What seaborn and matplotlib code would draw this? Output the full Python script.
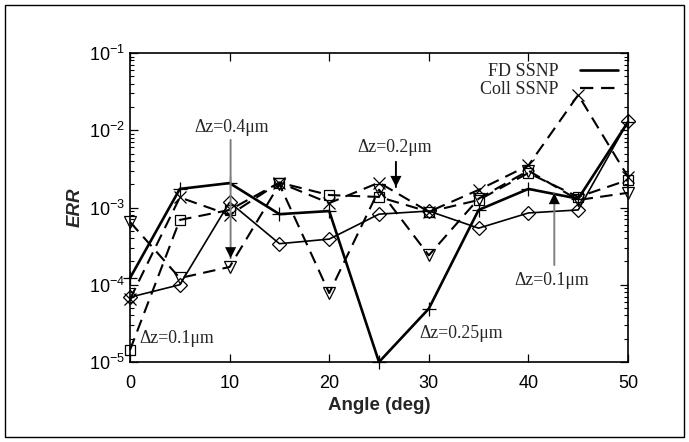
import numpy as np
import pandas as pd
import matplotlib
matplotlib.use("Agg")
import matplotlib.pyplot as plt
import seaborn as sns
from matplotlib.lines import Line2D
from matplotlib.patches import Rectangle
from matplotlib.ticker import LogLocator, NullLocator, NullFormatter

# data
angles = [0, 5, 10, 15, 20, 25, 30, 35, 40, 45, 50]
fd_plus = [1.22e-4, 1.74e-3, 2.07e-3, 8.2e-4, 9.0e-4, 1.0e-5, 4.9e-5, 9.3e-4, 1.74e-3, 1.3e-3, 1.28e-2]
fd_diamond = [6.9e-5, 1.0e-4, 1.17e-3, 3.4e-4, 3.9e-4, 8.2e-4, 9.0e-4, 5.4e-4, 8.5e-4, 9.3e-4, 1.3e-2]
coll_x = [6.5e-5, 1.35e-3, 8.0e-4, 2.1e-3, 1.14e-3, 2.1e-3, 8.8e-4, 1.69e-3, 3.5e-3, 2.86e-2, 2.5e-3]
coll_square = [1.43e-5, 6.9e-4, 9.3e-4, 2.1e-3, 1.45e-3, 1.37e-3, 8.8e-4, 1.25e-3, 2.8e-3, 1.37e-3, 2.27e-3]
coll_tri = [6.5e-4, 1.22e-4, 1.7e-4, 2.0e-3, 7.8e-5, 1.7e-3, 2.4e-4, 1.3e-3, 3.0e-3, 1.25e-3, 1.55e-3]

legend_labels = ["FD SSNP", "Coll SSNP"]

sns.set_style("ticks")
plt.rcParams['font.family'] = ['Liberation Sans', 'DejaVu Sans']
plt.rcParams['mathtext.fontset'] = 'custom'
plt.rcParams['mathtext.rm'] = 'Liberation Sans'
plt.rcParams['mathtext.it'] = 'Liberation Sans:italic'

fig = plt.figure(figsize=(6.89, 4.42), dpi=100)
ax = fig.add_axes([130 / 689, 1 - 362 / 442, 498 / 689, 309 / 442])

dash = (0, (6, 3.5))
# (values, marker, linestyle, linewidth, markersize)
series = [
    (coll_tri, 'v', dash, 1.5, 9),
    (coll_square, 's', dash, 1.5, 7),
    (coll_x, 'x', dash, 1.5, 9),
    (fd_diamond, 'D', '-', 1.2, 7),
    (fd_plus, '+', '-', 1.9, 10),
]
for vals, mk, ls, lw, ms in series:
    df = pd.DataFrame({"angle": angles, "err": vals})
    sns.lineplot(data=df, x="angle", y="err", ax=ax, color='black',
                 linestyle=ls, linewidth=lw, marker=mk, markersize=ms,
                 markerfacecolor='none', markeredgecolor='black',
                 markeredgewidth=0.9, clip_on=False)

ax.set_yscale('log')
ax.set_xlim(0, 50)
ax.set_ylim(1e-5, 1e-1)
ax.set_xticks([0, 10, 20, 30, 40, 50])
ax.xaxis.set_minor_locator(NullLocator())
ax.yaxis.set_major_locator(LogLocator(base=10, numticks=10))
ax.yaxis.set_minor_locator(LogLocator(base=10, subs=np.arange(2, 10), numticks=20))
ax.yaxis.set_minor_formatter(NullFormatter())
ax.tick_params(axis='both', which='both', direction='in', top=True, right=True,
               labelsize=13, colors='black')
ax.tick_params(which='major', length=6, width=0.9)
ax.tick_params(which='minor', length=3, width=0.8)
ax.tick_params(axis='x', pad=9)
for sp in ax.spines.values():
    sp.set_linewidth(1.2)
    sp.set_color('black')

ax.set_xlabel("Angle (deg)", fontsize=13.5, fontweight='bold', labelpad=4)
ax.set_ylabel("ERR", fontsize=13.5, fontweight='bold', fontstyle='italic', labelpad=4)

serif = ['Liberation Serif', 'DejaVu Serif']
tkw = dict(family=serif, fontsize=12.8, ha='center', va='center')


def arrow(x, y_from, y_to, line_col):
    # shaft, then a solid black head near the tip
    ax.annotate("", xy=(x, y_to), xytext=(x, y_from),
                arrowprops=dict(arrowstyle='-', color=line_col, lw=1.4,
                                shrinkA=0, shrinkB=0))
    head_from = y_to * (y_from / y_to) ** 0.25
    ax.annotate("", xy=(x, y_to), xytext=(x, head_from),
                arrowprops=dict(arrowstyle='-|>', color='black', lw=0.01,
                                mutation_scale=20, shrinkA=0, shrinkB=0))


arrow(10.1, 7.5e-3, 2.2e-4, 'gray')
ax.text(10.2, 1.07e-2, "Δz=0.4μm", **tkw)
arrow(26.7, 3.9e-3, 1.84e-3, 'black')
ax.text(26.6, 5.9e-3, "Δz=0.2μm", **tkw)
arrow(42.6, 1.8e-4, 1.54e-3, 'gray')
ax.text(42.3, 1.15e-4, "Δz=0.1μm", **tkw)
ax.text(33.3, 2.37e-5, "Δz=0.25μm", **tkw)
ax.text(4.7, 2.0e-5, "Δz=0.1μm", **tkw)

handles = [Line2D([], [], color='black', lw=1.9, ls='-'),
           Line2D([], [], color='black', lw=1.6, ls=dash)]
leg = ax.legend(handles, legend_labels, loc='upper right', frameon=False,
                markerfirst=False, prop={'family': serif, 'size': 13},
                handlelength=2.1, handletextpad=1.2, labelspacing=0.05,
                borderaxespad=0.15)

# outer frame around the whole figure
fig.patches.append(Rectangle((5 / 689, 5 / 442), 679 / 689, 432 / 442,
                             transform=fig.transFigure, fill=False,
                             edgecolor='black', lw=1.0))

fig.savefig("out.png", dpi=100)
